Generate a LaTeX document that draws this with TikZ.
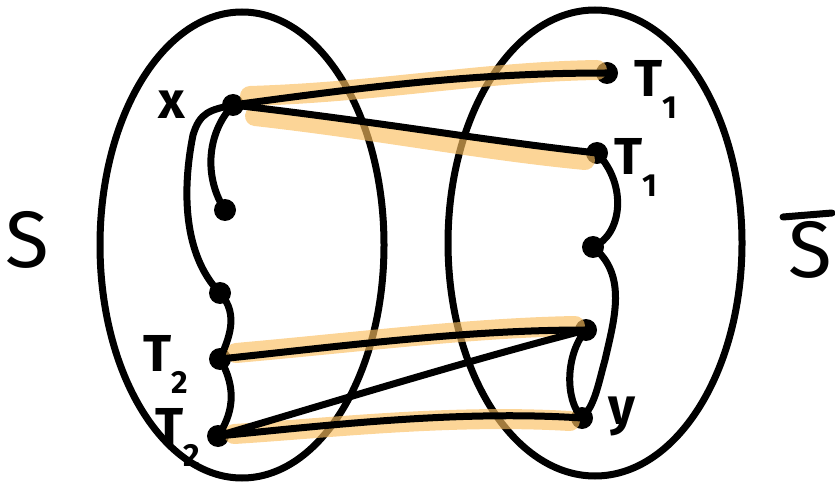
\documentclass[tikz,border=0pt]{standalone}
\usepackage{fontspec}
\setmainfont{Fira Sans}
\begin{document}
\begin{tikzpicture}[x=1pt,y=-1pt,
  every node/.style={inner sep=0pt},
  dot/.style={circle,fill=black,minimum size=22pt},
  blk/.style={line width=7pt,line cap=round,line join=round},
  hl/.style={line width=20pt,line cap=round,draw={rgb,255:red,250;green,190;blue,95},opacity=0.65},
  lbl/.style={font=\fontsize{52}{52}\selectfont\bfseries},
  big/.style={font=\fontsize{80}{80}\selectfont}
]
\useasboundingbox (0,0) rectangle (835,486);
\newcommand{\Tsub}[1]{T\raisebox{-0.42em}{\fontsize{32}{32}\selectfont #1}}

% ellipses
\draw[blk] (242,245) ellipse [x radius=142, y radius=233];
\draw[blk] (595,243) ellipse [x radius=147, y radius=233];

% nodes
\node[dot] (x) at (233,105) {};
\node[dot] (a) at (225,210) {};
\node[dot] (b) at (220,293) {};
\node[dot] (t2u) at (220,359) {};
\node[dot] (t2l) at (218,436) {};
\node[dot] (t1u) at (607,73) {};
\node[dot] (t1l) at (597,153) {};
\node[dot] (c) at (593,247) {};
\node[dot] (d) at (586,330) {};
\node[dot] (y) at (582,418) {};

% highlights
\coordinate (h1a) at (250,96);  \coordinate (h1b) at (597,70);
\coordinate (h2a) at (255,116); \coordinate (h2b) at (585,160);
\coordinate (h3a) at (236,353); \coordinate (h3b) at (575,326);
\coordinate (h4a) at (234,434); \coordinate (h4b) at (570,421);
\draw[hl] (h1a) .. controls (380,92) and (480,72) .. (h1b);
\draw[hl] (h2a) .. controls (380,130) and (480,150) .. (h2b);
\draw[hl] (h3a) .. controls (360,342) and (470,328) .. (h3b);
\draw[hl] (h4a) .. controls (330,428) and (450,414) .. (h4b);

% edges
\draw[blk] (x.center) .. controls (380,85) and (480,73) .. (t1u.center);
\draw[blk] (x.center) .. controls (380,122) and (480,140) .. (t1l.center);
\draw[blk] (x.center) .. controls (210,110) and (200,112) .. (193,135)
  .. controls (182,190) and (183,255) .. (b.center);
\draw[blk] (x.center) .. controls (205,135) and (205,180) .. (a.center);
\draw[blk] (b.center) .. controls (240,315) and (228,340) .. (t2u.center);
\draw[blk] (t2u.center) .. controls (238,390) and (232,415) .. (t2l.center);
\draw[blk] (t2u.center) .. controls (360,344) and (470,330) .. (d.center);
\draw[blk] (t2l.center) .. controls (330,425) and (460,410) .. (y.center);
\draw[blk] (t2l.center) .. controls (340,400) and (470,360) .. (d.center);
\draw[blk] (t1l.center) .. controls (628,185) and (622,235) .. (c.center);
\draw[blk] (c.center) .. controls (628,275) and (614,320) .. (605,360) .. controls (598,385) and (595,405) .. (y.center);
\draw[blk] (d.center) .. controls (565,355) and (565,400) .. (y.center);

% labels
\node[lbl] (lx) at (172,105) {x};
\node[lbl] (ly) at (622,416) {y};
\node[lbl,anchor=north west] (l1) at (634,60) {\Tsub{1}};
\node[lbl,anchor=north west] (l2) at (614,138) {\Tsub{1}};
\node[lbl,anchor=north west] (l3) at (143,335) {\Tsub{2}};
\node[lbl,anchor=north west] (l4) at (155,408) {\Tsub{2}};
\node[big] (s) at (27,240) {S};
\node[big] (sb) at (810,250) {S};
\draw[blk] (783,217) -- (832,213);
\end{tikzpicture}
\end{document}
